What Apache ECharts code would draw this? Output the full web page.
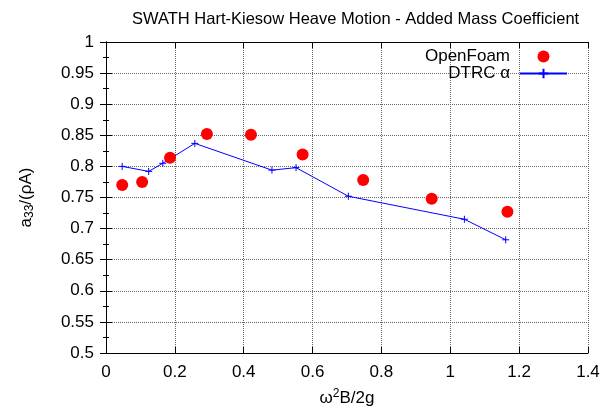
<!DOCTYPE html>
<html>
<head>
<meta charset="utf-8">
<script src="https://cdn.jsdelivr.net/npm/echarts@6/dist/echarts.min.js"></script>
<style>
  html, body { margin: 0; padding: 0; background: #fff; }
  #chart { width: 616px; height: 414px; }
</style>
</head>
<body>
<div id="chart"></div>
<script>
// OpenFoam CFD results: [omega^2 B / 2g, a33/(rho A)]
const openFoamX = [0.047, 0.105, 0.186, 0.293, 0.421, 0.571, 0.747, 0.946, 1.166];
const openFoamY = [0.770, 0.775, 0.814, 0.852, 0.851, 0.819, 0.778, 0.748, 0.727];

// DTRC experimental alpha curve
const dtrcX = [0.047, 0.124, 0.165, 0.258, 0.482, 0.552, 0.704, 1.041, 1.161];
const dtrcY = [0.800, 0.792, 0.805, 0.837, 0.794, 0.798, 0.752, 0.715, 0.682];

const xTicks = [0, 0.2, 0.4, 0.6, 0.8, 1, 1.2, 1.4];
const yTicks = [0.5, 0.55, 0.6, 0.65, 0.7, 0.75, 0.8, 0.85, 0.9, 0.95, 1];

const FONT = '"Liberation Sans", Arial, sans-serif';
const pair = (xs, ys) => xs.map((x, i) => [x, ys[i]]);
const tickFmt = v => String(+v.toFixed(2));

const plus = 'path://M0,4L8,4M4,0L4,8';

const frameLine = () => ({ show: true, lineStyle: { color: '#000', width: 1 } });
const gridLine = () => ({ show: true, lineStyle: { color: '#666', width: 1, type: 'dotted', opacity: 1 } });
const inTick = () => ({ show: true, inside: true, length: 6, lineStyle: { color: '#000', width: 1 } });
const minor = () => ({ show: true, splitNumber: 2, length: 3, lineStyle: { color: '#000', width: 1 } });

const chart = echarts.init(document.getElementById('chart'), null, { renderer: 'canvas' });
chart.setOption({
  backgroundColor: '#fff',
  animation: false,
  title: {
    text: 'SWATH Hart-Kiesow Heave Motion - Added Mass Coefficient',
    left: 127, top: 6,
    textStyle: { fontFamily: FONT, fontSize: 16.5, fontWeight: 'normal', color: '#000' }
  },
  legend: {
    orient: 'vertical',
    right: 43, top: 43,
    align: 'right',
    itemWidth: 47, itemHeight: 12, itemGap: 0,
    textStyle: { fontFamily: FONT, fontSize: 17, color: '#000', padding: [0, 5, 0, 0] },
    data: ['OpenFoam', 'DTRC α']
  },
  grid: { left: 106, right: 28, top: 42, bottom: 61, containLabel: false },
  xAxis: [{
    type: 'value', min: 0, max: 1.4, interval: 0.2,
    name: 'ω{p|2}B/2g', nameLocation: 'middle', nameGap: 35,
    nameTextStyle: { fontFamily: FONT, fontSize: 17, color: '#000',
      rich: { p: { fontFamily: FONT, fontSize: 12, verticalAlign: 'top', padding: [0, 0, 8, 0] } } },
    axisLine: frameLine(),
    axisTick: inTick(),
    axisLabel: { fontFamily: FONT, fontSize: 17, color: '#000', margin: 11, formatter: tickFmt },
    splitLine: gridLine()
  }, {
    type: 'value', min: 0, max: 1.4, interval: 0.2, position: 'top',
    axisLine: frameLine(),
    axisTick: inTick(),
    axisLabel: { show: false }, splitLine: { show: false }
  }],
  yAxis: [{
    type: 'value', min: 0.5, max: 1, interval: 0.05,
    name: 'a{s|33}/(ρA)', nameLocation: 'middle', nameGap: 70, nameRotate: 90,
    nameTextStyle: { fontFamily: FONT, fontSize: 17, color: '#000',
      rich: { s: { fontFamily: FONT, fontSize: 12, verticalAlign: 'bottom', padding: [8, 0, 0, 0] } } },
    axisLine: frameLine(),
    axisTick: inTick(),
    minorTick: minor(),
    axisLabel: { fontFamily: FONT, fontSize: 17, color: '#000', margin: 12, formatter: tickFmt },
    splitLine: gridLine()
  }, {
    type: 'value', min: 0.5, max: 1, interval: 0.05, position: 'right',
    axisLine: frameLine(),
    axisTick: inTick(),
    minorTick: minor(),
    axisLabel: { show: false }, splitLine: { show: false }
  }],
  series: [{
    name: 'OpenFoam', type: 'scatter',
    data: pair(openFoamX, openFoamY),
    symbol: 'circle', symbolSize: 12,
    itemStyle: { color: '#ff0000', opacity: 1 }, z: 3
  }, {
    name: 'DTRC α', type: 'line',
    data: pair(dtrcX, dtrcY),
    symbol: plus, symbolSize: 7, showSymbol: true,
    lineStyle: { color: '#0000ff', width: 1 },
    itemStyle: { color: '#0000ff', borderColor: '#0000ff', borderWidth: 1 },
    z: 2
  }]
});
</script>
</body>
</html>
